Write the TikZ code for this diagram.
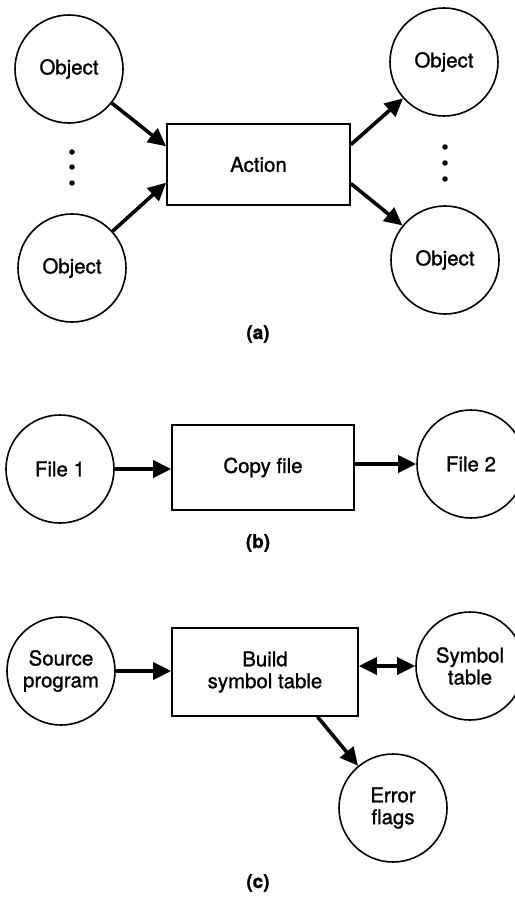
\documentclass[tikz,border=0pt]{standalone}
\usepackage{fontspec}
\setmainfont{TeX Gyre Heros}[FakeBold=1.2]
\usetikzlibrary{arrows.meta,calc}

\tikzset{
  obj/.style={circle, draw, line width=1.6bp, minimum size=108bp, inner sep=0pt,
              align=center, font=\fontsize{20.5}{22}\selectfont},
  proc/.style={rectangle, draw, line width=1.6bp, inner sep=0pt,
               align=center, font=\fontsize{20.5}{22}\selectfont},
  flow/.style={line width=3.6bp, -{Triangle[length=18bp,width=17bp]}},
  biflow/.style={line width=3.6bp, {Triangle[length=18bp,width=17bp]}-{Triangle[length=18bp,width=17bp]}},
  caption/.style={font=\fontsize{19}{21}\selectfont\bfseries},
  dot/.style={circle, fill, inner sep=0pt, minimum size=5.5bp}
}

\begin{document}
\begin{tikzpicture}[x=1bp, y=-1bp]
\useasboundingbox (0,0) rectangle (515,897);

% ---- (a) general action on objects ----
\node[obj] (inA) at (69,69) {Object};
\node[obj] (inB) at (72,268) {Object};
\node[proc, minimum width=183bp, minimum height=81bp] (act) at (258.5,164.5) {Action};
\node[obj] (outA) at (444,62) {Object};
\node[obj] (outB) at (445,260) {Object};

\foreach \y [count=\i] in {152,167,183} \node[dot] (ld\i) at (72,\y) {};
\foreach \y [count=\i] in {147,163,179} \node[dot] (rd\i) at (445,\y) {};

\coordinate (actInA)  at ($(act.north west)!0.28!(act.south west)$);
\coordinate (actInB)  at ($(act.north west)!0.72!(act.south west)$);
\coordinate (actOutA) at ($(act.north east)!0.26!(act.south east)$);
\coordinate (actOutB) at ($(act.north east)!0.73!(act.south east)$);

\draw[flow] (inA) -- (actInA);
\draw[flow] (inB) -- (actInB);
\draw[flow] (actOutA) -- (outA);
\draw[flow] (actOutB) -- (outB);

\node[caption] (capA) at (258,334) {(a)};

% ---- (b) copy file ----
\node[obj] (f1) at (60,469) {File 1};
\node[proc, minimum width=182bp, minimum height=85bp] (copy) at (263,467.5) {Copy file};
\node[obj] (f2) at (471,464) {File 2};

\draw[flow] (f1.east) -- (copy.west |- f1.east);
\draw[flow] (copy.east |- f2.west) -- (f2.west);

\node[caption] (capB) at (258,543) {(b)};

% ---- (c) build symbol table ----
\node[obj] (src) at (61,671) {Source\\program};
\node[proc, minimum width=186bp, minimum height=88bp] (build) at (265,672) {Build\\symbol table};
\node[obj] (sym) at (470,666) {Symbol\\table};
\node[obj] (err) at (393,808) {Error\\flags};

\coordinate (buildErr) at ($(build.south west)!0.78!(build.south east)$);

\draw[flow] (src.east) -- (build.west |- src.east);
\draw[biflow] (build.east |- sym.west) -- (sym.west);
\draw[flow] (buildErr) -- (err);

\node[caption] (capC) at (258,883) {(c)};
\end{tikzpicture}
\end{document}
